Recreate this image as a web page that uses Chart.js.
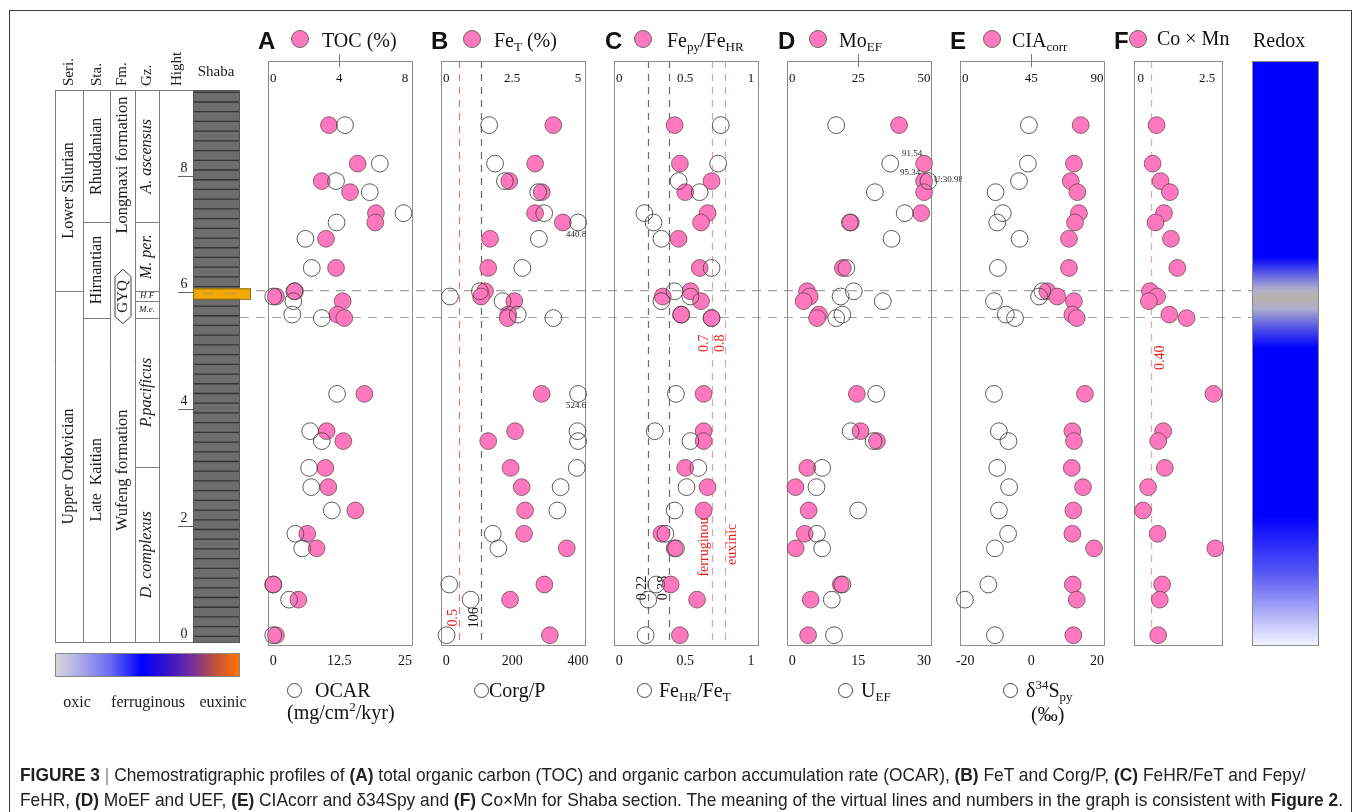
<!DOCTYPE html>
<html>
<head>
<meta charset="utf-8">
<title>Shaba section chemostratigraphy</title>
<script src="https://cdn.jsdelivr.net/npm/chart.js@4.4.1/dist/chart.umd.min.js"></script>
<style>
  html, body { margin: 0; padding: 0; background: #fff; }
  #fig { position: relative; width: 1357px; height: 812px; overflow: hidden; }
  canvas { position: absolute; }
  .t { position: absolute; white-space: nowrap; color: #111; }
  .let { font: bold 24px 'Liberation Sans', Arial, sans-serif; line-height: 24px; }
  .ser { font: 20px 'Liberation Serif', 'Times New Roman', serif; line-height: 22px; }
  .ser sub { font-size: 13px; vertical-align: -4px; line-height: 0; }
  .ser sup { font-size: 13px; vertical-align: 8px; line-height: 0; }
  .dot { position: absolute; width: 16px; height: 16px; border-radius: 50%; background: rgb(255,119,189); border: 1px solid #666; }
  .ring { position: absolute; width: 13px; height: 13px; border-radius: 50%; border: 1px solid #444; }
  #cap { position: absolute; left: 20px; top: 762px; width: 1500px; font: 19px 'Liberation Sans', Arial, sans-serif; line-height: 25px; color: #222; }
  #cap .ln { white-space: nowrap; transform: scaleX(0.913); transform-origin: left center; }
  #cap .bar { color: #888; }
</style>
</head>
<body>
<div id="fig">
  <canvas id="base" width="1357" height="812" style="left:0;top:0"></canvas>
  <canvas id="pA"></canvas>
  <canvas id="pB"></canvas>
  <canvas id="pC"></canvas>
  <canvas id="pD"></canvas>
  <canvas id="pE"></canvas>
  <canvas id="pF"></canvas>

  <!-- panel headers -->
  <div class="t let" style="left:258px;top:29px">A</div>
  <div class="dot" style="left:291px;top:30px"></div>
  <div class="t ser" style="left:322px;top:29px">TOC (%)</div>

  <div class="t let" style="left:431px;top:29px">B</div>
  <div class="dot" style="left:463px;top:30px"></div>
  <div class="t ser" style="left:494px;top:29px">Fe<sub>T</sub> (%)</div>

  <div class="t let" style="left:605px;top:29px">C</div>
  <div class="dot" style="left:634px;top:30px"></div>
  <div class="t ser" style="left:667px;top:29px">Fe<sub>py</sub>/Fe<sub>HR</sub></div>

  <div class="t let" style="left:778px;top:29px">D</div>
  <div class="dot" style="left:809px;top:30px"></div>
  <div class="t ser" style="left:839px;top:29px">Mo<sub>EF</sub></div>

  <div class="t let" style="left:950px;top:29px">E</div>
  <div class="dot" style="left:983px;top:30px"></div>
  <div class="t ser" style="left:1012px;top:29px">CIA<sub>corr</sub></div>

  <div class="t let" style="left:1114px;top:29px">F</div>
  <div class="dot" style="left:1129px;top:30px"></div>
  <div class="t ser" style="left:1157px;top:27px">Co &times; Mn</div>

  <div class="t ser" style="left:1253px;top:29px">Redox</div>

  <!-- bottom axis titles -->
  <div class="ring" style="left:287px;top:683px"></div>
  <div class="t ser" style="left:315px;top:679px">OCAR</div>
  <div class="t ser" style="left:287px;top:701px">(mg/cm<sup>2</sup>/kyr)</div>

  <div class="ring" style="left:474px;top:683px"></div>
  <div class="t ser" style="left:489px;top:679px">Corg/P</div>

  <div class="ring" style="left:637px;top:683px"></div>
  <div class="t ser" style="left:659px;top:679px">Fe<sub>HR</sub>/Fe<sub>T</sub></div>

  <div class="ring" style="left:838px;top:683px"></div>
  <div class="t ser" style="left:861px;top:679px">U<sub>EF</sub></div>

  <div class="ring" style="left:1003px;top:683px"></div>
  <div class="t ser" style="left:1026px;top:679px">&delta;<sup>34</sup>S<sub>py</sub></div>
  <div class="t ser" style="left:1031px;top:703px">(&permil;)</div>

  <div id="cap">
    <div class="ln"><b>FIGURE 3</b> <span class="bar">|</span> Chemostratigraphic profiles of <b>(A)</b> total organic carbon (TOC) and organic carbon accumulation rate (OCAR), <b>(B)</b> FeT and Corg/P, <b>(C)</b> FeHR/FeT and Fepy/</div>
    <div class="ln">FeHR, <b>(D)</b> MoEF and UEF, <b>(E)</b> CIAcorr and &delta;34Spy and <b>(F)</b> Co&times;Mn for Shaba section. The meaning of the virtual lines and numbers in the graph is consistent with <b>Figure 2</b>.</div>
  </div>
</div>

<script>
// sample heights above the base of the section (m)
const heights = [8.87, 8.21, 7.91, 7.72, 7.36, 7.20, 6.92, 6.42, 6.02, 5.93, 5.85, 5.62,
                 5.56, 4.26, 3.62, 3.45, 2.99, 2.66, 2.26, 1.86, 1.61, 0.99, 0.73, 0.12];

// A
const toc  = [3.38, 5.12, 2.94, 4.66, 6.23, 6.19, 3.20, 3.81, 1.32, 0.16, 4.21, 3.89,
              4.31, 5.53, 3.24, 4.25, 3.16, 3.34, 4.98, 2.06, 2.63, 0.00, 1.52, 0.16];
const ocar = [13.6, 20.2, 11.9, 18.3, 24.7, 12.0, 6.1, 7.3, 4.0, 0.0, 3.8, 3.6,
              9.2, 12.1, 7.0, 9.2, 6.8, 7.2, 11.1, 4.2, 5.5, 0.0, 3.0, 0.0];
// B
const feT   = [4.06, 3.37, 2.39, 3.62, 3.37, 4.42, 1.66, 1.59, 1.47, 1.32, 2.58, 2.35,
               2.33, 3.62, 2.61, 1.59, 2.44, 2.86, 2.99, 2.95, 4.57, 3.72, 2.42, 3.93];
const corgP = [130, 148, 178, 279, 297, 440.8, 281, 231, 102, 11, 171, 217,
               325, 524.6, 398, 410, 396, 347, 337, 141, 158, 9, 74, 1];
// C
const fepyFeHR = [0.42, 0.46, 0.70, 0.50, 0.67, 0.62, 0.45, 0.61, 0.54, 0.33, 0.62, 0.47,
                  0.70, 0.64, 0.64, 0.64, 0.50, 0.67, 0.64, 0.32, 0.42, 0.39, 0.59, 0.46];
const feHRFeT  = [0.77, 0.75, 0.45, 0.61, 0.19, 0.26, 0.32, 0.70, 0.42, 0.54, 0.32, 0.47,
                  0.70, 0.43, 0.27, 0.54, 0.60, 0.51, 0.42, 0.35, 0.43, 0.28, 0.22, 0.20];
// D
const moEF = [40.5, 91.54, 95.34, 51, 48.9, 22.2, null, 19.2, 5.6, 6.6, 4.3, 10.1,
              9.4, 24.5, 25.9, 32.1, 5.7, 1.2, 6.2, 4.7, 1.3, 18.4, 7.0, 6.0];
const uEF  = [10.0, 22.3, 30.98, 18.8, 25.6, 13.1, 22.6, 12.3, 14.0, 11.0, 20.6, 11.4,
              10.0, 19.1, 13.3, 18.5, 6.8, 5.5, 15.0, 5.6, 6.8, 11.4, 9.0, 9.5];
// E
const ciaCorr = [78.8, 74.2, 72.0, 76.5, 77.6, 74.9, 70.8, 70.8, 56.0, 62.8, 74.2, 73.1,
                 76.1, 81.7, 73.1, 74.2, 72.7, 80.4, 73.8, 73.1, 87.9, 73.4, 76.1, 73.8];
const d34S    = [-0.7, -1.0, -3.7, -10.8, -8.6, -10.3, -3.5, -10.1, 3.4, 2.4, -11.3, -7.7,
                 -4.9, -11.3, -9.8, -6.9, -10.3, -6.7, -9.8, -7.0, -11.0, -13.0, -20.1, -11.0];
// F
const coMn = [0.60, 0.45, 0.75, 1.10, 0.88, 0.56, 1.14, 1.38, 0.35, 0.62, 0.31, 1.08,
              1.73, 2.74, 0.85, 0.66, 0.91, 0.28, 0.09, 0.64, 2.81, 0.81, 0.72, 0.66];

// threshold values shown as dashed lines
const feTRef = 0.5, corgPRef = 106;
const feHRRefs = [0.22, 0.38], fepyRefs = [0.7, 0.8];
const coMnRef = 0.40;

// axis tick labels
const tocTicks = [0, 4, 8],   ocarTicks = [0, 12.5, 25];
const feTTicks = [0, 2.5, 5], corgPTicks = [0, 200, 400];
const ratioTicks = [0, 0.5, 1];
const moTicks = [0, 25, 50],  uTicks = [0, 15, 30];
const ciaTicks = [0, 45, 90], d34STicks = [-20, 0, 20];
const coMnTicks = [0, 2.5];

// stratigraphic column (heights in m)
const tableTop = 9.47;
const boundaryHeights = [6.03, 5.57];
const orangeBed = [5.89, 6.07];
const heightTicks = [0, 2, 4, 6, 8];
const seriesUnits = [['Lower Silurian', 6.03, tableTop], ['Upper Ordovician', 0, 6.03]];
const stageUnits = [['Rhuddanian', 7.2, tableTop], ['Hirnantian', 5.57, 7.2], ['Late  Kaitian', 0, 5.57]];
const formationUnits = [['Longmaxi formation', 6.9, tableTop], ['Wufeng formation', 0, 5.9]];
const zoneUnits = [['A. ascensus', 7.2, tableTop], ['M. per.', 6.03, 7.2], ['H F', 5.85, 6.03],
                   ['M.e.', 5.57, 5.85], ['P.pacificus', 3.0, 5.57], ['D. complexus', 0, 3.0]];

const PT = 61, PB = 646;
const Y_MIN = -0.065, Y_MAX = 9.97;
const PINK = 'rgb(255,119,189)';
const SERIF = '"Liberation Serif", "Times New Roman", serif';
const RED_TXT = '#ee1d1d';

function range(lo, hi) {
  const r = hi - lo;
  return { min: lo - 0.04 * r, max: hi + 0.06 * r };
}

// ---------- base layer: lithology column, section lines, redox bar ----------
const COLS = [55, 83, 110, 135, 159, 193, 239];

function vtext(ctx, text, x, y, font, color, align) {
  ctx.save();
  ctx.translate(x, y);
  ctx.rotate(-Math.PI / 2);
  ctx.font = font;
  ctx.fillStyle = color || '#1a1a1a';
  ctx.textAlign = align || 'center';
  ctx.textBaseline = 'middle';
  ctx.fillText(text, 0, 0);
  ctx.restore();
}

const column = {
  id: 'column',
  afterDraw(chart) {
    const { ctx } = chart;
    const y = chart.scales.y;
    const Y = h => y.getPixelForValue(h);
    ctx.save();

    // figure frame
    ctx.strokeStyle = '#3a3a3a';
    ctx.lineWidth = 1;
    ctx.strokeRect(9.5, 10.5, 1342, 900);

    const top = Math.round(Y(tableTop)) + 0.5, bot = Math.round(Y(0)) + 0.5;

    // section boundaries across the profiles
    ctx.strokeStyle = '#a3a3a3';
    ctx.lineWidth = 1.2;
    ctx.setLineDash([9, 7]);
    boundaryHeights.forEach(h => {
      ctx.beginPath(); ctx.moveTo(240, Y(h)); ctx.lineTo(1252, Y(h)); ctx.stroke();
    });
    ctx.setLineDash([]);

    // Shaba shale column
    ctx.fillStyle = '#6d6d6d';
    ctx.fillRect(COLS[5], top, COLS[6] - COLS[5], bot - top);
    ctx.strokeStyle = '#333';
    ctx.lineWidth = 1.3;
    for (let h = 0.1; h < tableTop; h += 1 / 6) {
      ctx.beginPath(); ctx.moveTo(COLS[5], Y(h)); ctx.lineTo(COLS[6], Y(h)); ctx.stroke();
    }
    ctx.strokeStyle = '#555';
    ctx.lineWidth = 1;
    ctx.strokeRect(COLS[5] + 0.5, top, COLS[6] - COLS[5], bot - top);

    // orange bed
    const oy1 = Y(orangeBed[1]), oy2 = Y(orangeBed[0]);
    ctx.fillStyle = '#f2a800';
    ctx.fillRect(COLS[5], oy1, 57, oy2 - oy1);
    ctx.strokeStyle = '#8c6a10';
    ctx.strokeRect(COLS[5] + 0.5, oy1 + 0.5, 57, oy2 - oy1);
    ctx.strokeStyle = '#c89a40';
    ctx.lineWidth = 1.5;
    const om = (oy1 + oy2) / 2;
    ctx.beginPath(); ctx.moveTo(202, om); ctx.lineTo(214, om); ctx.moveTo(224, om); ctx.lineTo(237, om); ctx.stroke();

    // table grid
    ctx.strokeStyle = '#7c7c7c';
    ctx.lineWidth = 1;
    ctx.beginPath();
    for (let i = 0; i <= 4; i++) { ctx.moveTo(COLS[i] + 0.5, top); ctx.lineTo(COLS[i] + 0.5, bot); }
    ctx.moveTo(COLS[0], top); ctx.lineTo(COLS[5], top);
    ctx.moveTo(COLS[0], bot); ctx.lineTo(COLS[5], bot);
    ctx.stroke();

    const unitLines = (units, c) => {
      ctx.beginPath();
      units.forEach(u => {
        if (u[1] > 0.01) { const yy = Math.round(Y(u[1])) + 0.5; ctx.moveTo(COLS[c], yy); ctx.lineTo(COLS[c + 1], yy); }
      });
      ctx.stroke();
    };
    unitLines(seriesUnits, 0);
    unitLines(stageUnits, 1);
    unitLines(zoneUnits, 3);

    const unitText = (units, c, font) => {
      const cx = (COLS[c] + COLS[c + 1]) / 2;
      units.forEach(u => vtext(ctx, u[0], cx, Y((u[1] + u[2]) / 2), font));
    };
    unitText(seriesUnits, 0, '16px ' + SERIF);
    unitText(stageUnits, 1, '16px ' + SERIF);
    unitText(formationUnits, 2, '16.5px ' + SERIF);
    // zones: thin ones horizontal and small
    const zx = (COLS[3] + COLS[4]) / 2;
    zoneUnits.forEach(u => {
      const cy = Y((u[1] + u[2]) / 2);
      if (u[2] - u[1] < 0.5) {
        ctx.font = 'italic 9px ' + SERIF;
        ctx.fillStyle = '#1a1a1a';
        ctx.textAlign = 'center'; ctx.textBaseline = 'middle';
        ctx.fillText(u[0], zx, cy);
      } else {
        vtext(ctx, u[0], zx, cy, 'italic 16px ' + SERIF);
      }
    });

    // GYQ marker
    const gx = (COLS[2] + COLS[3]) / 2 + 0.5, g1 = Y(6.36), g2 = Y(5.5);
    ctx.strokeStyle = '#444';
    ctx.beginPath();
    ctx.moveTo(gx, g1 - 2); ctx.lineTo(gx + 8, g1 + 5); ctx.lineTo(gx + 8, g2 - 5);
    ctx.lineTo(gx, g2 + 2); ctx.lineTo(gx - 8, g2 - 5); ctx.lineTo(gx - 8, g1 + 5); ctx.closePath();
    ctx.stroke();
    vtext(ctx, 'GYQ', gx, (g1 + g2) / 2, '15px ' + SERIF);

    // headers
    const hf = '15px ' + SERIF;
    vtext(ctx, 'Seri.', 69, 86, hf, null, 'left');
    vtext(ctx, 'Sta.', 97, 86, hf, null, 'left');
    vtext(ctx, 'Fm.', 122.5, 86, hf, null, 'left');
    vtext(ctx, 'Gz.', 147, 86, hf, null, 'left');
    vtext(ctx, 'Hight', 177, 86, hf, null, 'left');
    ctx.font = hf;
    ctx.fillStyle = '#1a1a1a';
    ctx.textAlign = 'center'; ctx.textBaseline = 'middle';
    ctx.fillText('Shaba', 216, 72);

    // height scale
    ctx.strokeStyle = '#666';
    ctx.font = '14px ' + SERIF;
    heightTicks.forEach(v => {
      const ty = Math.round(Y(v)) + 0.5;
      if (v > 0) { ctx.beginPath(); ctx.moveTo(178, ty); ctx.lineTo(COLS[5], ty); ctx.stroke(); }
      ctx.fillText(String(v), 184, ty - 8);
    });

    // redox interpretation bar
    const rTop = Y(Y_MAX), rBot = Y(Y_MIN);
    const grad = ctx.createLinearGradient(0, rTop, 0, rBot);
    const stop = (h, c) => grad.addColorStop(Math.min(1, Math.max(0, (Y(h) - rTop) / (rBot - rTop))), c);
    stop(Y_MAX, '#0000ff'); stop(6.6, '#0000ff'); stop(6.3, '#6464e6'); stop(6.05, '#b0b0cc');
    stop(5.9, '#b8b3aa'); stop(5.72, '#aeaecc'); stop(5.45, '#6262e4'); stop(5.05, '#0000ff');
    stop(2.15, '#0000ff'); stop(1.2, '#5656f6'); stop(0.5, '#aeaef8'); stop(Y_MIN, '#f5f5ff');
    ctx.fillStyle = grad;
    ctx.fillRect(1252, rTop, 66, rBot - rTop);
    ctx.strokeStyle = '#888';
    ctx.strokeRect(1252.5, rTop + 0.5, 66, rBot - rTop - 1);

    // redox colour key
    const lg = ctx.createLinearGradient(55, 0, 239, 0);
    [[0, '#d6d6da'], [0.1, '#b9b9e4'], [0.3, '#6a6af4'], [0.47, '#0000ff'], [0.62, '#3a16c6'],
     [0.75, '#74309c'], [0.87, '#c2523c'], [1, '#ff7300']].forEach(s => lg.addColorStop(s[0], s[1]));
    ctx.fillStyle = lg;
    ctx.fillRect(55, 653, 184, 23);
    ctx.strokeStyle = '#888';
    ctx.strokeRect(55.5, 653.5, 184, 23);
    ctx.fillStyle = '#1a1a1a';
    ctx.font = '16px ' + SERIF;
    ctx.fillText('oxic', 77, 703);
    ctx.fillText('ferruginous', 148, 703);
    ctx.fillText('euxinic', 223, 703);

    ctx.restore();
  }
};

new Chart(document.getElementById('base'), {
  type: 'scatter',
  data: { datasets: [] },
  options: {
    responsive: false, animation: false, events: [],
    layout: { autoPadding: false, padding: { top: PT, bottom: 812 - PB, left: 0, right: 0 } },
    plugins: { legend: { display: false }, tooltip: { enabled: false } },
    scales: {
      x: { display: false, min: 0, max: 1 },
      y: { display: false, min: Y_MIN, max: Y_MAX }
    }
  },
  plugins: [column]
});

// ---------- profile panels ----------
const GREY_LINE = 'rgba(70,70,70,0.8)';
const panels = [
  { id: 'pA', left: 268, width: 145, top: range(0, 8), topTicks: tocTicks, midTick: true,
    bottom: range(0, 25), bottomTicks: ocarTicks, filled: toc, open: ocar, lines: [], notes: [], pointNotes: [] },
  { id: 'pB', left: 441, width: 145, top: range(0, 5), topTicks: feTTicks,
    bottom: range(0, 400), bottomTicks: corgPTicks, filled: feT, open: corgP, openCap: 400,
    lines: [{ axis: 'xt', value: feTRef, color: 'rgba(225,80,80,0.8)' },
            { axis: 'xb', value: corgPRef, color: GREY_LINE }],
    notes: [{ text: String(feTRef), axis: 'xt', value: feTRef, dx: -6, h: 0.42, color: RED_TXT },
            { text: String(corgPRef), axis: 'xb', value: corgPRef, dx: -7, h: 0.42, color: '#111' }],
    pointNotes: [{ ds: 0, i: 5, text: String(corgP[5]), dx: -2, dy: 12 },
                 { ds: 0, i: 13, text: String(corgP[13]), dx: -2, dy: 12 }] },
  { id: 'pC', left: 614, width: 145, top: range(0, 1), topTicks: ratioTicks,
    bottom: range(0, 1), bottomTicks: ratioTicks, filled: fepyFeHR, open: feHRFeT,
    lines: [{ axis: 'xb', value: feHRRefs[0], color: GREY_LINE },
            { axis: 'xb', value: feHRRefs[1], color: GREY_LINE },
            { axis: 'xt', value: fepyRefs[0], color: 'rgba(215,110,110,0.65)' },
            { axis: 'xt', value: fepyRefs[1], color: 'rgba(215,110,110,0.65)' }],
    notes: [{ text: String(fepyRefs[0]), axis: 'xt', value: fepyRefs[0], dx: -7, h: 5.13, color: RED_TXT },
            { text: String(fepyRefs[1]), axis: 'xt', value: fepyRefs[1], dx: -4, h: 5.13, color: RED_TXT },
            { text: 'ferruginous', axis: 'xt', value: fepyRefs[0], dx: -7, h: 1.68, color: RED_TXT },
            { text: 'euxinic', axis: 'xt', value: fepyRefs[1], dx: 8, h: 1.68, color: RED_TXT },
            { text: String(feHRRefs[0]), axis: 'xb', value: feHRRefs[0], dx: -6, h: 0.93, color: '#111' },
            { text: String(feHRRefs[1]), axis: 'xb', value: feHRRefs[1], dx: -6, h: 0.93, color: '#111' }],
    pointNotes: [] },
  { id: 'pD', left: 787, width: 145, top: range(0, 50), topTicks: moTicks, midTick: true, filledCap: 50,
    bottom: range(0, 30), bottomTicks: uTicks, filled: moEF, open: uEF, lines: [], notes: [],
    pointNotes: [{ ds: 1, i: 1, text: String(moEF[1]), dx: -12, dy: -10 },
                 { ds: 1, i: 2, text: String(moEF[2]), dx: -14, dy: -8 },
                 { ds: 0, i: 2, text: 'U:' + uEF[2], dx: 20, dy: -1 }] },
  { id: 'pE', left: 960, width: 145, top: range(0, 90), topTicks: ciaTicks, midTick: true,
    bottom: range(-20, 20), bottomTicks: d34STicks, filled: ciaCorr, open: d34S, lines: [], notes: [], pointNotes: [] },
  { id: 'pF', left: 1134, width: 89, top: { min: -0.25, max: 3.1 }, topTicks: coMnTicks,
    bottom: { min: 0, max: 1 }, bottomTicks: null, filled: coMn, open: null,
    lines: [{ axis: 'xt', value: coMnRef, color: 'rgba(225,140,140,0.75)' }],
    notes: [{ text: coMnRef.toFixed(2), axis: 'xt', value: coMnRef, dx: 9, h: 4.88, color: RED_TXT }],
    pointNotes: [] }
];

function framePlugin(p) {
  return {
    id: 'frame',
    beforeDatasetsDraw(chart) {
      const { ctx, chartArea: a, scales } = chart;
      ctx.save();
      // threshold lines
      ctx.lineWidth = 1.2;
      ctx.setLineDash([7, 6]);
      p.lines.forEach(l => {
        const x = Math.round(scales[l.axis].getPixelForValue(l.value)) + 0.5;
        ctx.strokeStyle = l.color;
        ctx.beginPath(); ctx.moveTo(x, a.top); ctx.lineTo(x, a.bottom); ctx.stroke();
      });
      ctx.setLineDash([]);
      // panel box
      ctx.strokeStyle = '#8c8c8c';
      ctx.lineWidth = 1;
      ctx.strokeRect(a.left + 0.5, a.top + 0.5, a.width - 1, a.height - 1);
      // top axis labels sit inside the box
      ctx.fillStyle = '#111';
      ctx.font = '13px ' + SERIF;
      ctx.textAlign = 'center';
      ctx.textBaseline = 'middle';
      p.topTicks.forEach(v => ctx.fillText(String(v), scales.xt.getPixelForValue(v), a.top + 18));
      if (p.midTick) {
        const x = Math.round(scales.xt.getPixelForValue(p.topTicks[1])) + 0.5;
        ctx.strokeStyle = '#777';
        ctx.beginPath(); ctx.moveTo(x, a.top - 7); ctx.lineTo(x, a.top + 6); ctx.stroke();
      }
      // threshold labels
      p.notes.forEach(n => {
        const x = scales[n.axis].getPixelForValue(n.value) + n.dx;
        vtext(ctx, n.text, x, scales.y.getPixelForValue(n.h), '14px ' + SERIF, n.color);
      });
      ctx.restore();
    },
    afterDatasetsDraw(chart) {
      const { ctx } = chart;
      ctx.save();
      ctx.fillStyle = '#222';
      ctx.font = '9px ' + SERIF;
      ctx.textAlign = 'center';
      ctx.textBaseline = 'middle';
      p.pointNotes.forEach(n => {
        const pt = chart.getDatasetMeta(n.ds).data[n.i];
        ctx.fillText(n.text, pt.x + n.dx, pt.y + n.dy);
      });
      ctx.restore();
    }
  };
}

function points(values, cap) {
  return heights.map((h, i) => ({ x: values[i] == null ? null : Math.min(values[i], cap ?? Infinity), y: h }));
}

panels.forEach(p => {
  const cv = document.getElementById(p.id);
  const padTop = 12, axisH = 34, side = 30;
  cv.width = p.width + 2 * side;
  cv.height = padTop + (PB - PT) + axisH;
  cv.style.left = (p.left - side) + 'px';
  cv.style.top = (PT - padTop) + 'px';

  const datasets = [];
  if (p.open) {
    datasets.push({
      data: points(p.open, p.openCap), xAxisID: 'xb', yAxisID: 'y',
      pointRadius: 8.4, backgroundColor: 'rgba(255,255,255,0)', borderColor: '#4a4a4a',
      borderWidth: 0.9, clip: false
    });
  }
  datasets.push({
    data: points(p.filled, p.filledCap), xAxisID: 'xt', yAxisID: 'y',
    pointRadius: 8.4, backgroundColor: PINK, borderColor: 'rgba(80,60,70,0.85)',
    borderWidth: 0.8, clip: false
  });

  new Chart(cv, {
    type: 'scatter',
    data: { datasets },
    options: {
      responsive: false, animation: false, events: [],
      layout: { autoPadding: false, padding: { left: side, right: side, top: padTop, bottom: 0 } },
      plugins: { legend: { display: false }, tooltip: { enabled: false } },
      scales: {
        y: { type: 'linear', display: false, min: Y_MIN, max: Y_MAX },
        xt: { type: 'linear', position: 'top', display: false, min: p.top.min, max: p.top.max },
        xb: {
          type: 'linear', position: 'bottom', min: p.bottom.min, max: p.bottom.max,
          grid: { display: false, drawTicks: false }, border: { display: false },
          ticks: {
            display: !!p.bottomTicks, padding: 7, color: '#111', autoSkip: false, maxRotation: 0,
            font: { family: '"Liberation Serif", serif', size: 14 },
            callback: v => String(v)
          },
          afterBuildTicks: s => { s.ticks = (p.bottomTicks || []).map(v => ({ value: v })); },
          afterFit: s => { s.height = axisH; }
        }
      }
    },
    plugins: [framePlugin(p)]
  });
});
</script>
</body>
</html>
